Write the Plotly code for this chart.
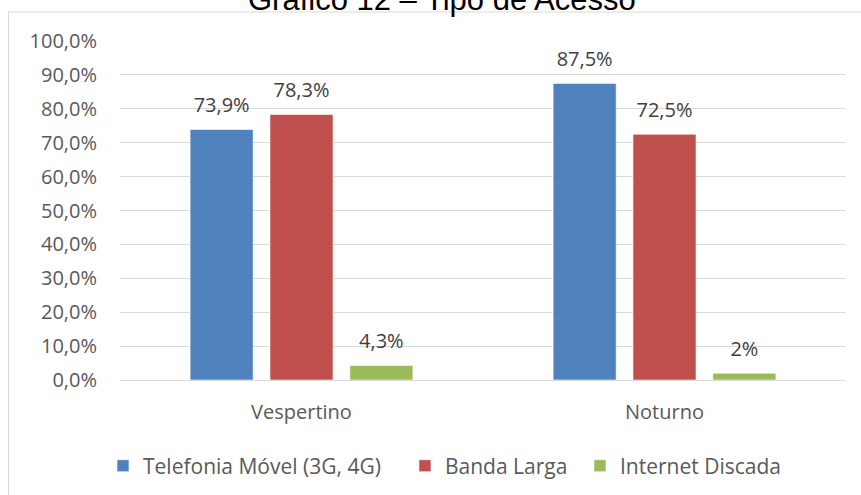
import plotly.graph_objects as go

categories = ["Vespertino", "Noturno"]
series_names = ["Telefonia Móvel (3G, 4G)", "Banda Larga", "Internet Discada"]
series_values = [
    [73.9, 87.5],
    [78.3, 72.5],
    [4.3, 2.0],
]
series_labels = [
    ["73,9%", "87,5%"],
    ["78,3%", "72,5%"],
    ["4,3%", "2%"],
]
colors = ["#4F81BD", "#C0504D", "#9BBB59"]
y_ticks = [0, 10, 20, 30, 40, 50, 60, 70, 80, 90, 100]
y_tick_labels = ["0,0%", "10,0%", "20,0%", "30,0%", "40,0%", "50,0%",
                 "60,0%", "70,0%", "80,0%", "90,0%", "100,0%"]
title_text = "Gráfico 12 – Tipo de Acesso"

FONT = "Open Sans"
GRAY = "#595959"
legend_ids = ["legend", "legend2", "legend3"]
legend_x = [-0.0234, 0.3925, 0.6336]

fig = go.Figure()
for i, name in enumerate(series_names):
    fig.add_trace(go.Bar(
        x=categories, y=series_values[i], name=name,
        marker=dict(color=colors[i], line=dict(color="rgba(255,255,255,0.6)", width=1)),
        offsetgroup=str(i), legend=legend_ids[i],
    ))
for i, name in enumerate(series_names):
    fig.add_trace(go.Scatter(
        x=categories, y=series_values[i], mode="markers+text",
        text=series_labels[i], textposition="top center",
        textfont=dict(family=FONT, size=20, color="#404040"),
        marker=dict(size=18, opacity=0),
        offsetgroup=str(i), showlegend=False, hoverinfo="skip",
        cliponaxis=False,
    ))

legend_common = dict(orientation="h", xanchor="left", yref="container",
                     y=0.0585, yanchor="middle",
                     font=dict(family=FONT, size=21, color=GRAY),
                     bgcolor="rgba(0,0,0,0)")

fig.update_layout(
    width=861, height=495,
    margin=dict(l=120, r=15, t=41, b=115, autoexpand=False),
    paper_bgcolor="white", plot_bgcolor="white",
    barmode="group", bargap=0.34, bargroupgap=0.21,
    scattermode="group", scattergap=0.34,
    font=dict(family=FONT, size=20, color=GRAY),
    showlegend=True,
    legend=dict(x=legend_x[0], **legend_common),
    legend2=dict(x=legend_x[1], **legend_common),
    legend3=dict(x=legend_x[2], **legend_common),
    xaxis=dict(showgrid=False, showline=True, linecolor="#D9D9D9", linewidth=1,
               ticks="", tickfont=dict(family=FONT, size=20, color=GRAY),
               ticklabelstandoff=14),
    yaxis=dict(range=[0, 100], tickvals=y_ticks, ticktext=y_tick_labels,
               showgrid=True, gridcolor="#D9D9D9", gridwidth=1,
               zeroline=False, showline=False, ticks="",
               tickfont=dict(family=FONT, size=20, color=GRAY),
               ticklabelstandoff=22),
    shapes=[dict(type="rect", xref="paper", yref="paper",
                 x0=-0.1536, x1=1.05, y0=-0.4, y1=1.0855,
                 line=dict(color="#D9D9D9", width=1), fillcolor="rgba(0,0,0,0)",
                 layer="below")],
    annotations=[dict(text=title_text, xref="paper", yref="paper",
                      x=0.4435, y=1.065, xanchor="center", yanchor="bottom",
                      showarrow=False,
                      font=dict(family="Liberation Sans", size=31, color="black"))],
)

fig.write_html("out.html", config={"displayModeBar": False},
               post_script="document.body.style.margin='0';")
